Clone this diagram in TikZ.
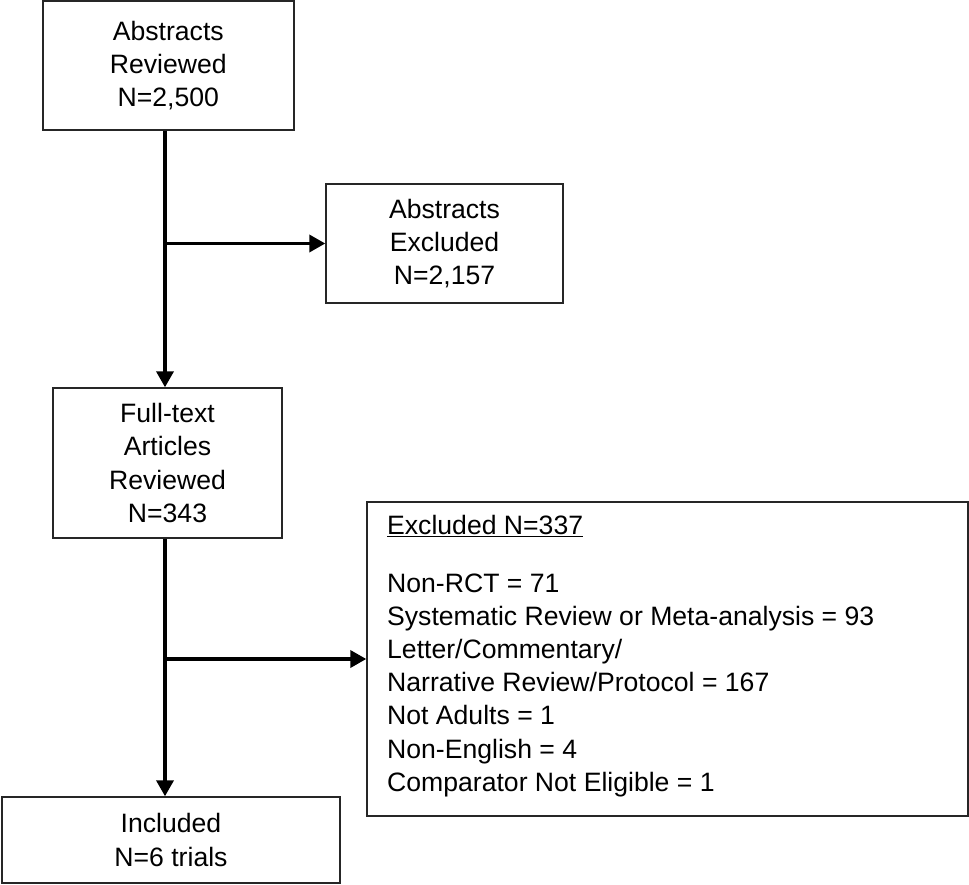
\documentclass[tikz,border=0pt]{standalone}
\usepackage{fontspec}
\setmainfont{Liberation Sans}
\usetikzlibrary{arrows.meta}
\begin{document}
\begin{tikzpicture}[x=1pt,y=-1pt,
  box/.style={draw=black!85, line width=1.4pt, fill=white, align=center, inner sep=0pt,
              font=\fontsize{26.6}{33.3}\selectfont},
  txt/.style={align=left, inner sep=0pt, font=\fontsize{26.6}{33.1}\selectfont},
  arr/.style={line width=3.6pt, -{Triangle[length=16pt,width=17pt]}}]
\useasboundingbox (0,0) rectangle (969,884);
\fill[white] (0,0) rectangle (969,884);

\node[box, minimum width=251pt, minimum height=129pt] (b1) at (168.3,65.5) {Abstracts\\Reviewed\\N=2,500};
\node[box, minimum width=237pt, minimum height=119pt] (b2) at (444.5,243.5) {Abstracts\\Excluded\\N=2,157};
\node[box, minimum width=229pt, minimum height=150pt] (b3) at (167.5,463) {Full-text\\Articles\\Reviewed\\N=343};
\node[box, minimum width=601pt, minimum height=314pt] (b4) at (667.5,659) {};
\node[txt, anchor=north west] (b4t) at (387,515) {\underline{Excluded N=337}\\[25pt]
Non-RCT = 71\\
Systematic Review or Meta-analysis = 93\\
Letter/Commentary/\\
Narrative Review/Protocol = 167\\
Not Adults = 1\\
Non-English = 4\\
Comparator Not Eligible = 1};
\node[box, minimum width=338pt, minimum height=86pt] (b5) at (171,840) {Included\\N=6 trials};

\coordinate (v) at (165,0);
\draw[arr] (b1.south -| v) -- (b3.north -| v);
\draw[arr] (b2.west -| v) -- (b2.west);
\draw[arr] (b3.south -| v) -- (b5.north -| v);
\draw[arr] (b4.west -| v) -- (b4.west);
\end{tikzpicture}
\end{document}
